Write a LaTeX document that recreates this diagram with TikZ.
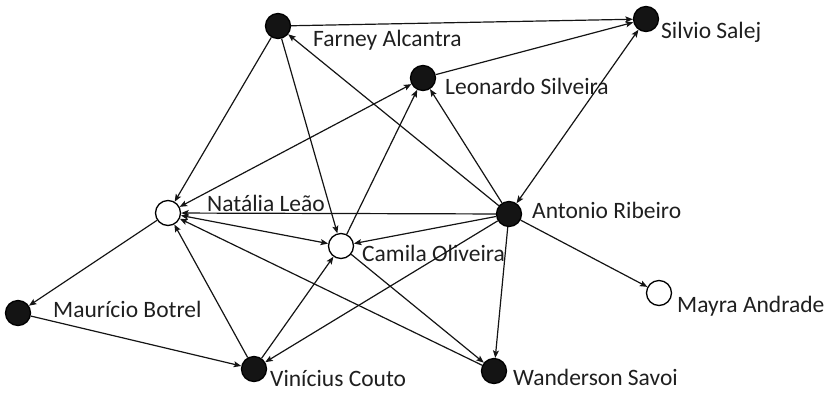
\documentclass[tikz,border=0pt]{standalone}
\usepackage{fontspec}
\setmainfont{Carlito}
\usetikzlibrary{arrows.meta}
\begin{document}
\begin{tikzpicture}[x=1pt,y=-1pt,
  actor/.style={circle,draw=black,line width=1.3pt,inner sep=0pt,minimum size=25pt},
  full/.style={actor,fill=black!92},
  open/.style={actor,fill=white},
  lbl/.style={anchor=base west,inner sep=0pt,font=\fontsize{23.5}{26}\selectfont,text=black!88},
  link/.style={line width=1.2pt,draw=black!92,-{Stealth[length=7.5pt,width=6pt,inset=1.5pt]}},
  both/.style={link,{Stealth[length=7.5pt,width=6pt,inset=1.5pt]}-{Stealth[length=7.5pt,width=6pt,inset=1.5pt]}}]
\useasboundingbox (0,0) rectangle (831,392);
\node[full] (F) at (278,26) {};
\node[full] (S) at (646,19) {};
\node[full] (L) at (423,78) {};
\node[open] (N) at (168,213) {};
\node[full] (A) at (509,214) {};
\node[open] (C) at (341,246) {};
\node[full] (M) at (18,313) {};
\node[open] (Y) at (659,293) {};
\node[full] (V) at (254,369) {};
\node[full] (W) at (494,371) {};
\node[lbl] (lF) at (313,46) {Farney Alcantra};
\node[lbl] (lS) at (661,38) {Silvio Salej};
\node[lbl] (lL) at (445,94) {Leonardo Silveira};
\node[lbl] (lN) at (207,211) {Natália Leão};
\node[lbl] (lA) at (532,218) {Antonio Ribeiro};
\node[lbl] (lC) at (362,261) {Camila Oliveira};
\node[lbl] (lM) at (53,317) {Maurício Botrel};
\node[lbl] (lY) at (677,312) {Mayra Andrade};
\node[lbl] (lV) at (270,386) {Vinícius Couto};
\node[lbl] (lW) at (513,385.5) {Wanderson Savoi};
\draw[link] (F) -- (S);
\draw[link] (L) -- (S);
\draw[both] (A) -- (S);
\draw[link] (A) -- (F);
\draw[link] (F) -- (N);
\draw[link] (F) -- (C);
\draw[both] (N) -- (L);
\draw[link] (C) -- (L);
\draw[link] (A) -- (L);
\draw[link] (A) -- (N);
\draw[link] (A) -- (C);
\draw[both] (N) -- (C);
\draw[link] (N) -- (M);
\draw[link] (M) -- (V);
\draw[link] (V) -- (N);
\draw[link] (V) -- (C);
\draw[link] (A) -- (V);
\draw[link] (C) -- (W);
\draw[link] (W) -- (N);
\draw[link] (A) -- (W);
\draw[link] (A) -- (Y);
\end{tikzpicture}
\end{document}
